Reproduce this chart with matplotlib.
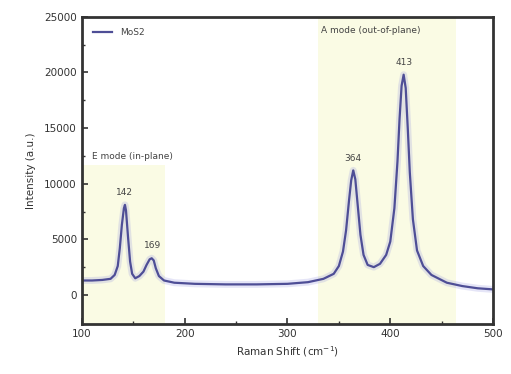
import numpy as np
import matplotlib.pyplot as plt

# spectrum (Raman shift, intensity)
shift = [100, 110, 120, 128, 132, 135, 137, 139, 141, 142, 143, 145, 147, 149, 152,
         156, 160, 163, 166, 168, 170, 172, 175, 180, 190, 210, 240, 270, 300, 320,
         335, 345, 350, 354, 357, 360, 362, 364, 366, 368, 371, 374, 378, 384, 390,
         396, 400, 404, 407, 409, 411, 413, 415, 417, 419, 422, 426, 432, 440, 455,
         470, 485, 500]
intensity = [1300, 1300, 1350, 1450, 1800, 2600, 4200, 6300, 7800, 8100, 7600, 5200, 3000, 1900, 1500,
             1700, 2100, 2700, 3200, 3300, 3100, 2400, 1700, 1300, 1100, 1000, 950, 950, 1000, 1150,
             1450, 1900, 2600, 3900, 5800, 8600, 10300, 11200, 10400, 8400, 5400, 3600, 2700, 2500, 2800,
             3600, 4800, 7800, 12000, 15800, 18800, 19800, 18600, 15000, 11000, 6800, 4000, 2600, 1800, 1100,
             800, 600, 500]

peak_pos = [142, 169, 364, 413]
peak_int = [8100, 3300, 11200, 19800]
peak_txt = ['142', '169', '364', '413']

plt.rcParams['font.family'] = 'DejaVu Sans'
fig = plt.figure(figsize=(5.11, 3.74), dpi=100)
ax = fig.add_axes([0.160, 0.134, 0.805, 0.821])

# shaded mode regions
ax.fill_between([100, 181], -2600, 11700, color='#fafbe4', lw=0)
ax.fill_between([330, 464], -2600, 25000, color='#fafbe4', lw=0)
ax.text(110, 12000, 'E mode (in-plane)', fontsize=6.5, color='#444444', va='bottom')
ax.text(333, 23400, 'A mode (out-of-plane)', fontsize=6.5, color='#444444', va='bottom')

# glow + line
ax.plot(shift, intensity, color='#9a9ae0', lw=5, alpha=0.25, solid_joinstyle='round')
ax.plot(shift, intensity, color='#4e4e96', lw=1.6, label='MoS2', solid_joinstyle='round')

for p, v, t in zip(peak_pos, peak_int, peak_txt):
    ax.text(p, v + 700, t, fontsize=6.5, color='#444444', ha='center', va='bottom')

ax.set_xlim(100, 500)
ax.set_ylim(-2600, 25000)
ax.set_xticks([100, 200, 300, 400, 500])
ax.set_yticks([0, 5000, 10000, 15000, 20000, 25000])
ax.set_xticks(np.arange(100, 501, 50), minor=True)
ax.set_yticks(np.arange(0, 25001, 2500), minor=True)
ax.tick_params(which='both', direction='in', labelsize=7.5, colors='#333333')
ax.tick_params(which='major', length=4, width=1.2)
ax.tick_params(which='minor', length=2, width=1)
for s in ax.spines.values():
    s.set_linewidth(2)
    s.set_color('#333333')

ax.set_xlabel('Raman Shift (cm$^{-1}$)', fontsize=7.5, color='#333333', labelpad=4)
ax.set_ylabel('Intensity (a.u.)', fontsize=7.5, color='#333333', labelpad=6)
ax.legend(loc='upper left', fontsize=6.5, frameon=False, handlelength=2.2,
          borderaxespad=0.8, labelcolor='#444444')

fig.savefig('out.png', dpi=100)
